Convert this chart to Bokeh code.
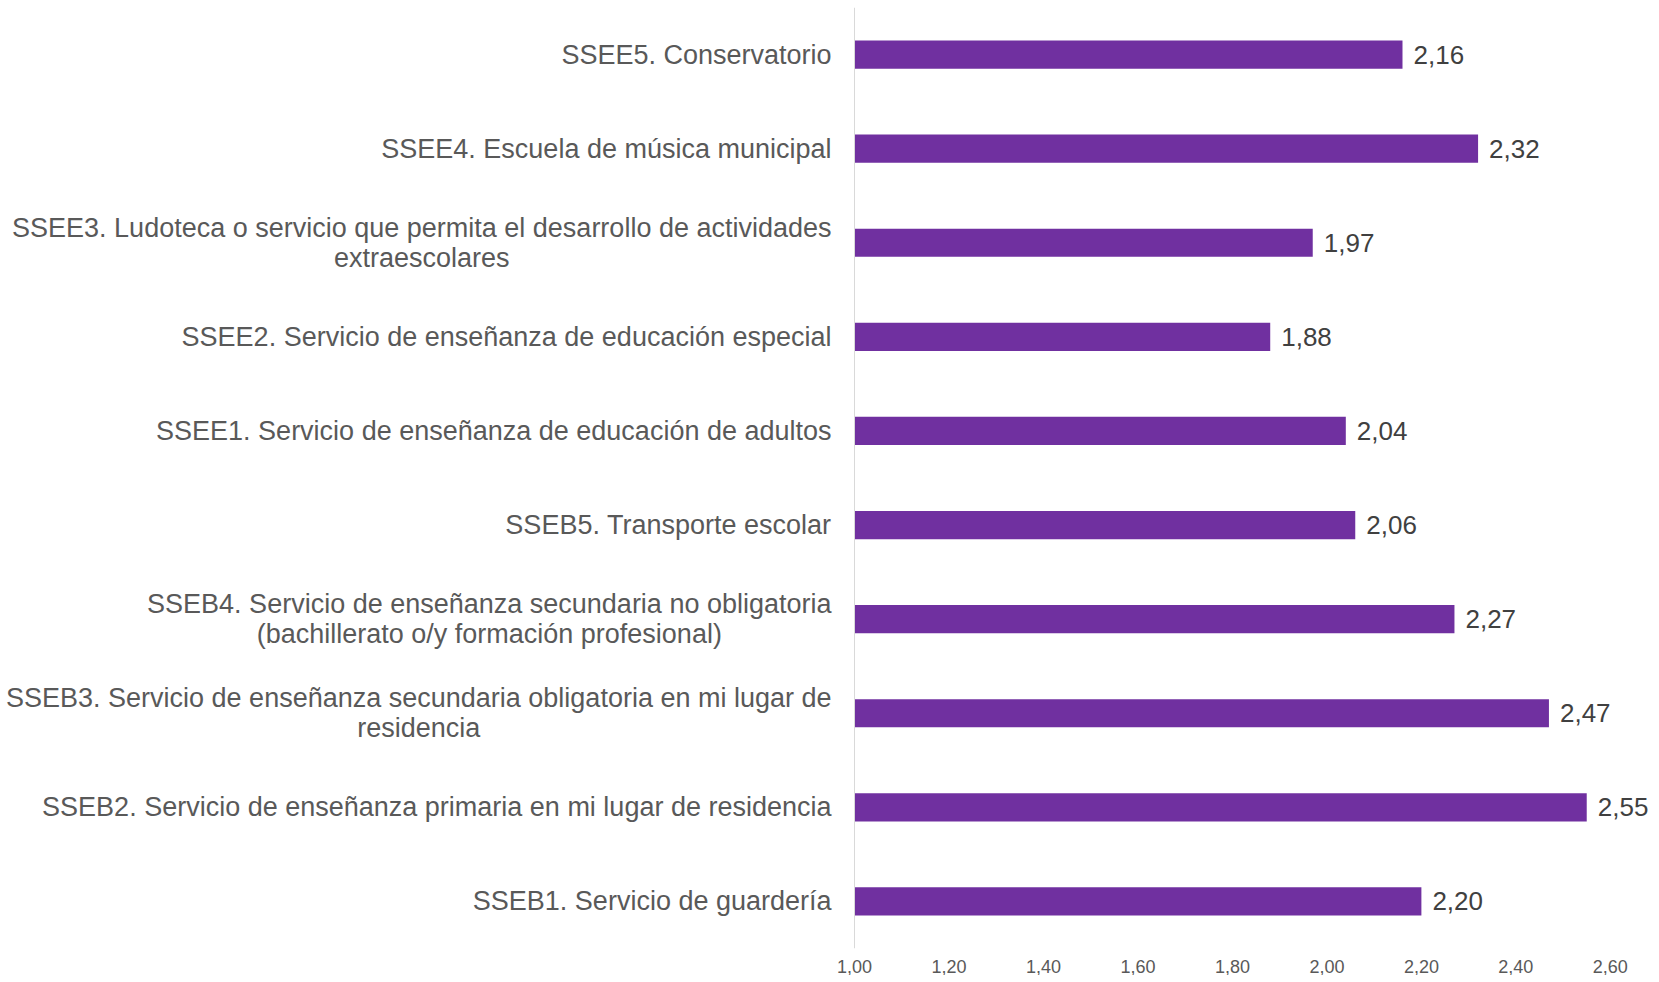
from bokeh.plotting import figure
from bokeh.models import Range1d, FactorRange, Span, FixedTicker, CustomJSTickFormatter, ColumnDataSource
from bokeh.core.properties import value
from bokeh.embed import file_html
from bokeh.resources import INLINE

# ---- data (top to bottom as in the chart) ----
labels = [
    "SSEE5. Conservatorio",
    "SSEE4. Escuela de música municipal",
    "SSEE3. Ludoteca o servicio que permita el desarrollo de actividades\nextraescolares",
    "SSEE2. Servicio de enseñanza de educación especial",
    "SSEE1. Servicio de enseñanza de educación de adultos",
    "SSEB5. Transporte escolar",
    "SSEB4. Servicio de enseñanza secundaria no obligatoria\n(bachillerato o/y formación profesional)",
    "SSEB3. Servicio de enseñanza secundaria obligatoria en mi lugar de\nresidencia",
    "SSEB2. Servicio de enseñanza primaria en mi lugar de residencia",
    "SSEB1. Servicio de guardería",
]
values = [2.16, 2.32, 1.97, 1.88, 2.04, 2.06, 2.27, 2.47, 2.55, 2.20]
x_ticks = [1.0, 1.2, 1.4, 1.6, 1.8, 2.0, 2.2, 2.4, 2.6]
axis_start = 1.0

FONT = "Liberation Sans"
BAR_COLOR = "#7030A0"

value_text = [f"{v:.2f}".replace(".", ",") for v in values]
base = [axis_start] * len(values)
src = ColumnDataSource(dict(cat=labels, val=values, base=base, vtxt=value_text))

p = figure(
    width=1651, height=975,
    y_range=FactorRange(factors=labels[::-1], range_padding=0),
    x_range=Range1d(-0.8078, 2.6871),
    output_backend="svg", toolbar_location=None,
    y_axis_location=None,
    min_border_left=0, min_border_right=0, min_border_top=7, min_border_bottom=0,
)
p.outline_line_color = None
p.xgrid.visible = False
p.ygrid.visible = False
p.background_fill_color = "white"
p.border_fill_color = "white"

p.hbar(y="cat", left="base", right="val", height=0.3, source=src,
       fill_color=BAR_COLOR, line_color=None)

# value labels
p.text(x="val", y="cat", text="vtxt", source=src, x_offset=11,
       text_align="left", text_baseline="middle",
       text_font=value(FONT), text_font_size="26px", text_color="#404040")

# category labels
p.text(x="base", y="cat", text="cat", source=src, x_offset=-23,
       anchor="center_right", text_align="center", text_baseline="middle",
       text_font=value(FONT), text_font_size="27px", text_color="#595959",
       text_line_height=1.0)

# vertical axis line
p.add_layout(Span(location=axis_start, dimension="height", line_color="#d9d9d9", line_width=1))

xa = p.xaxis[0]
xa.ticker = FixedTicker(ticks=x_ticks)
xa.formatter = CustomJSTickFormatter(code="return tick.toFixed(2).replace('.', ',');")
xa.axis_line_color = None
xa.major_tick_line_color = None
xa.minor_tick_line_color = None
xa.major_tick_out = 0
xa.major_tick_in = 0
xa.major_label_standoff = 11
xa.major_label_text_font = FONT
xa.major_label_text_font_size = "18px"
xa.major_label_text_color = "#595959"

open("out.html", "w").write(file_html(p, INLINE))
